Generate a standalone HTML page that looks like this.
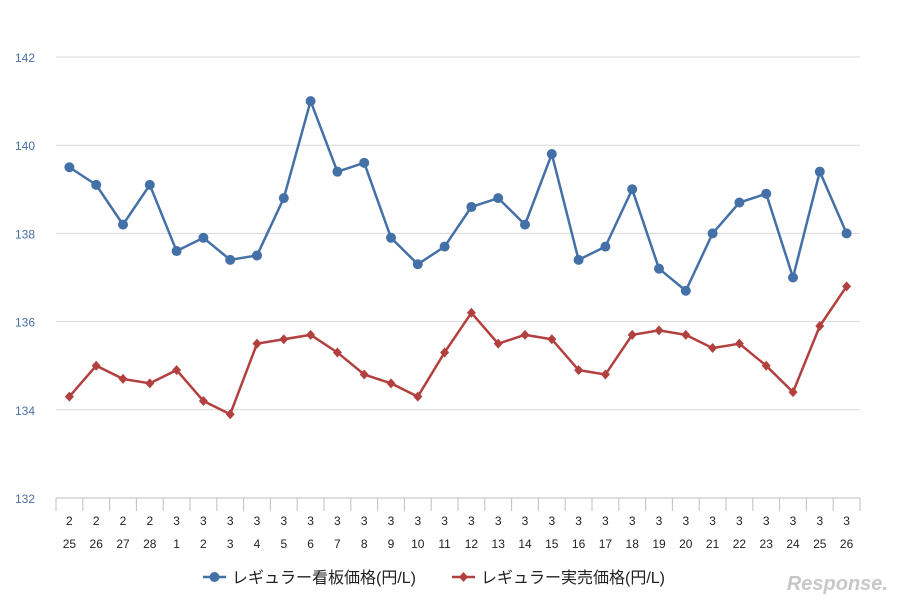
<!DOCTYPE html>
<html><head><meta charset="utf-8"><style>
body{margin:0;background:#fff;font-family:"Liberation Sans","Noto Sans CJK JP",sans-serif}
</style></head><body>
<svg id="c" width="902" height="605" xmlns="http://www.w3.org/2000/svg"></svg>
<script>
const cats1=["2","2","2","2","3","3","3","3","3","3","3","3","3","3","3","3","3","3","3","3","3","3","3","3","3","3","3","3","3","3"];
const cats2=["25","26","27","28","1","2","3","4","5","6","7","8","9","10","11","12","13","14","15","16","17","18","19","20","21","22","23","24","25","26"];
const signPrice=[139.5,139.1,138.2,139.1,137.6,137.9,137.4,137.5,138.8,141.0,139.4,139.6,137.9,137.3,137.7,138.6,138.8,138.2,139.8,137.4,137.7,139.0,137.2,136.7,138.0,138.7,138.9,137.0,139.4,138.0];
const actualPrice=[134.3,135.0,134.7,134.6,134.9,134.2,133.9,135.5,135.6,135.7,135.3,134.8,134.6,134.3,135.3,136.2,135.5,135.7,135.6,134.9,134.8,135.7,135.8,135.7,135.4,135.5,135.0,134.4,135.9,136.8];
const yTicks=[132,134,136,138,140,142];
const svg=document.getElementById('c');const NS="http://www.w3.org/2000/svg";
function mk(t,a,p){const e=document.createElementNS(NS,t);for(const k in a)e.setAttribute(k,a[k]);(p||svg).appendChild(e);return e;}
const x0=56,x1=860,yb=498,yt=57,n=cats1.length,bw=(x1-x0)/n;
const y=v=>yb-(v-132)/(142-132)*(yb-yt);
const x=i=>x0+bw*(i+0.5);
yTicks.forEach(t=>{
 if(t>132){const g=mk('line',{x1:x0,x2:x1,y1:y(t),y2:y(t),stroke:'#d9d9d9','stroke-width':1});}
 const l=mk('text',{x:35,y:y(t)+5,'text-anchor':'end','font-size':12,fill:'#4a6fa5'});l.textContent=t;
 
});
const ax=mk('line',{x1:x0,x2:x1,y1:yb,y2:yb,stroke:'#bfbfbf'});
for(let i=0;i<=n;i++){mk('line',{x1:x0+bw*i,x2:x0+bw*i,y1:yb,y2:yb+13,stroke:'#bfbfbf'});}
for(let i=0;i<n;i++){
 const a=mk('text',{x:x(i),y:525,'text-anchor':'middle','font-size':12,fill:'#222'});a.textContent=cats1[i];
 
 const b=mk('text',{x:x(i),y:548,'text-anchor':'middle','font-size':12,fill:'#222'});b.textContent=cats2[i];
 
}
function series(vals,col,shape,name){
 const p=mk('polyline',{points:vals.map((v,i)=>x(i)+','+y(v)).join(' '),fill:'none',stroke:col,'stroke-width':2.5});
 
 vals.forEach((v,i)=>{let m;
  if(shape==='c')m=mk('circle',{cx:x(i),cy:y(v),r:5,fill:col});
  else{const cx=x(i),cy=y(v);m=mk('polygon',{points:`${cx},${cy-5} ${cx+4.5},${cy} ${cx},${cy+5} ${cx-4.5},${cy}`,fill:col});}
  
 });
}
series(signPrice,'#4470a8','c','sign-price');
series(actualPrice,'#b2403f','d','actual-price');
const lg=mk('g',{});
mk('line',{x1:203,x2:226,y1:577,y2:577,stroke:'#4470a8','stroke-width':2.5},lg);
mk('circle',{cx:214.5,cy:577,r:5,fill:'#4470a8'},lg);
let t=mk('text',{x:232,y:583,'font-size':16,fill:'#222'},lg);t.textContent='レギュラー看板価格(円/L)';

mk('line',{x1:452,x2:475,y1:577,y2:577,stroke:'#b2403f','stroke-width':2.5},lg);
mk('polygon',{points:'463.5,572 468,577 463.5,582 459,577',fill:'#b2403f'},lg);
t=mk('text',{x:481,y:583,'font-size':16,fill:'#222'},lg);t.textContent='レギュラー実売価格(円/L)';

const w=mk('text',{x:888,y:590,'text-anchor':'end','font-size':20,'font-style':'italic','font-weight':'bold',fill:'#c8c8c8'});w.textContent='Response.';

</script>
</body></html>
